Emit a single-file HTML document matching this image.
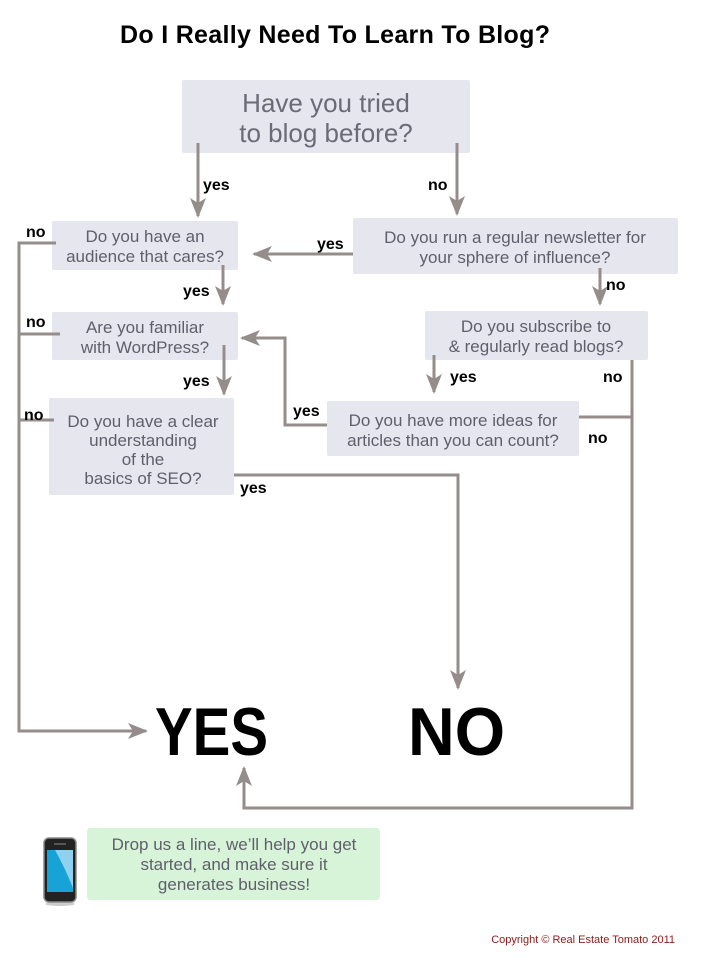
<!DOCTYPE html>
<html><head><style>
html,body{margin:0;padding:0;background:#fff;}
svg{display:block;font-family:"Liberation Sans",Arial,sans-serif;}
</style></head><body>
<svg width="703" height="966" viewBox="0 0 703 966" xmlns="http://www.w3.org/2000/svg">
<defs>
<marker id="b" markerWidth="20" markerHeight="16" refX="18" refY="8" orient="auto" markerUnits="userSpaceOnUse">
<path d="M0,0 L20,8 L0,16 L5,8 Z" fill="#958c8c"/>
</marker>
</defs>
<text x="335" y="43" font-size="25" font-weight="bold" text-anchor="middle" fill="#000" textLength="430">Do I Really Need To Learn To Blog?</text>

<g fill="#e6e6ee">
<rect x="182" y="80" width="288" height="73" rx="2"/>
<rect x="52" y="221" width="186" height="49" rx="2"/>
<rect x="353" y="218" width="325" height="56" rx="2"/>
<rect x="52" y="312" width="186" height="48" rx="2"/>
<rect x="425" y="311" width="223" height="49" rx="2"/>
<rect x="49" y="398" width="185" height="97" rx="2"/>
<rect x="327" y="401" width="252" height="55" rx="2"/>
</g>
<rect x="87" y="828" width="293" height="72" rx="3" fill="#d8f4d8"/>

<g fill="none" stroke="#958c8c" stroke-width="3">
<path d="M198 143 V216" marker-end="url(#b)"/>
<path d="M457 143 V214" marker-end="url(#b)"/>
<path d="M353 254 H254" marker-end="url(#b)"/>
<path d="M223 265 V304" marker-end="url(#b)"/>
<path d="M600 268 V304" marker-end="url(#b)"/>
<path d="M224 345 V394" marker-end="url(#b)"/>
<path d="M434 355 V392" marker-end="url(#b)"/>
<path d="M327 425 H285 V338 H242" marker-end="url(#b)"/>
<path d="M234 475 H458 V688" marker-end="url(#b)"/>
<path d="M579 417 H632"/>
<path d="M632 360 V808 H244 V768" marker-end="url(#b)"/>
<path d="M56 243 H19 V731 H146" marker-end="url(#b)"/>
<path d="M60 334 H19"/>
<path d="M54 420 H19"/>
</g>

<g font-size="26" fill="#6b6b78" text-anchor="middle">
<text x="326" y="112">Have you tried</text>
<text x="326" y="142">to blog before?</text>
</g>
<g font-size="17" fill="#5f5f6c" text-anchor="middle">
<text x="145" y="242">Do you have an</text>
<text x="145" y="262">audience that cares?</text>
<text x="515" y="243">Do you run a regular newsletter for</text>
<text x="515" y="263">your sphere of influence?</text>
<text x="145" y="333">Are you familiar</text>
<text x="145" y="353">with WordPress?</text>
<text x="536" y="332">Do you subscribe to</text>
<text x="536" y="352">&amp; regularly read blogs?</text>
<text x="143" y="427">Do you have a clear</text>
<text x="143" y="446">understanding</text>
<text x="143" y="465">of the</text>
<text x="143" y="484">basics of SEO?</text>
<text x="453" y="426">Do you have more ideas for</text>
<text x="453" y="446">articles than you can count?</text>
<text x="234" y="850">Drop us a line, we’ll help you get</text>
<text x="234" y="870">started, and make sure it</text>
<text x="234" y="890">generates business!</text>
</g>
<g font-size="16" font-weight="bold" fill="#000">
<text x="203" y="190">yes</text>
<text x="428" y="190">no</text>
<text x="26" y="237">no</text>
<text x="317" y="249">yes</text>
<text x="183" y="296">yes</text>
<text x="606" y="290">no</text>
<text x="26" y="327">no</text>
<text x="183" y="386">yes</text>
<text x="450" y="382">yes</text>
<text x="603" y="382">no</text>
<text x="24" y="420">no</text>
<text x="293" y="416">yes</text>
<text x="588" y="443">no</text>
<text x="240" y="493">yes</text>
</g>
<text x="155" y="755" font-size="68" font-weight="bold" fill="#000" textLength="113" lengthAdjust="spacingAndGlyphs">YES</text>
<text x="408" y="755" font-size="68" font-weight="bold" fill="#000" textLength="97" lengthAdjust="spacingAndGlyphs">NO</text>

<g>
<ellipse cx="60" cy="904" rx="15" ry="2" fill="#ccc"/>
<rect x="44" y="838" width="32" height="64" rx="5" fill="#222" stroke="#888" stroke-width="1.5"/>
<rect x="47" y="850" width="26" height="42" fill="#17a3d6"/>
<path d="M55 850 Q66 870 73 888 V850 Z" fill="#8fd2ee"/>
<rect x="54" y="843" width="12" height="2" fill="#555"/>
</g>

<text x="675" y="943" font-size="11" fill="#8b1a1a" text-anchor="end">Copyright © Real Estate Tomato 2011</text>
</svg>
</body></html>
